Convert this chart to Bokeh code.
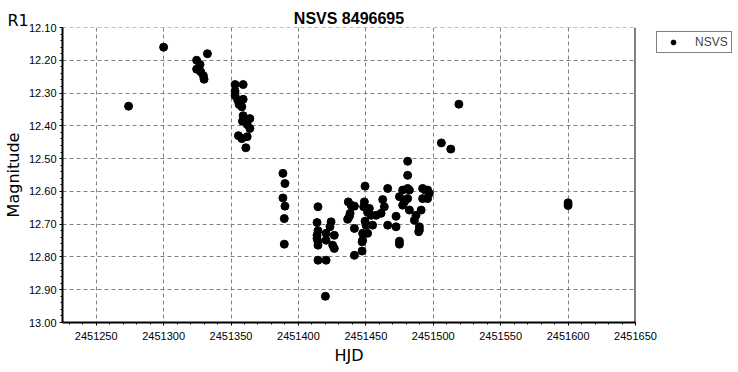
from bokeh.plotting import figure
from bokeh.models import (Range1d, SingleIntervalTicker, NumeralTickFormatter, Legend,
                          LegendItem, Span, Label, ColumnDataSource)
from bokeh.embed import file_html
from bokeh.resources import INLINE

title_text = "NSVS 8496695"
x_label = "HJD"
y_label = "Magnitude"
band_label = "R1"
series_name = "NSVS"

hjd = [
    2451274, 2451300, 2451332.5,
    2451324.5, 2451327, 2451324.5, 2451327.5, 2451329.5, 2451330,
    2451353, 2451359, 2451353, 2451353, 2451355, 2451359, 2451356, 2451358,
    2451359, 2451364, 2451358.5, 2451362, 2451364, 2451355.5, 2451358, 2451362, 2451361,
    2451388.5, 2451390, 2451388.5, 2451390, 2451389.5, 2451389.5,
    2451414.5, 2451413.8, 2451414.5, 2451413.8, 2451413.8, 2451414.5, 2451414.5,
    2451420.5, 2451424.2, 2451423.4, 2451420.5, 2451426.6, 2451425.4, 2451426.6,
    2451414.5, 2451420.5, 2451420,
    2451449.4, 2451437, 2451439, 2451441.5, 2451438.3, 2451436.5, 2451441.5,
    2451448.4, 2451451.3, 2451453.9, 2451457.6, 2451449.4, 2451450.1, 2451447.6,
    2451451.3, 2451447.2, 2451447.2, 2451441.5, 2451448.9, 2451452.6, 2451455,
    2451437.8, 2451447.6,
    2451466.2, 2451462.5, 2451474.9, 2451478.6, 2451463.7, 2451461.3, 2451472.4,
    2451466.2, 2451472.4, 2451474.9, 2451474.9, 2451481, 2451481, 2451481,
    2451477.3, 2451482.3, 2451477.3, 2451482.3, 2451478.6, 2451481,
    2451492.1, 2451495.8, 2451492.1, 2451495.8, 2451497.1, 2451491, 2451487.2,
    2451486, 2451489.7, 2451489.2, 2451494.1, 2451489.7,
    2451506, 2451513, 2451519, 2451600, 2451600,
]
mag = [
    12.34, 12.16, 12.18,
    12.200, 12.213, 12.227, 12.235, 12.247, 12.258,
    12.274, 12.274, 12.294, 12.308, 12.322, 12.319, 12.335, 12.342,
    12.369, 12.378, 12.386, 12.396, 12.408, 12.430, 12.439, 12.433, 12.467,
    12.545, 12.576, 12.620, 12.645, 12.683, 12.761,
    12.647, 12.695, 12.720, 12.734, 12.744, 12.754, 12.764,
    12.728, 12.693, 12.708, 12.749, 12.734, 12.764, 12.774,
    12.810, 12.810, 12.920,
    12.584, 12.632, 12.642, 12.645, 12.667, 12.685, 12.713,
    12.647, 12.664, 12.673, 12.673, 12.691, 12.703, 12.728,
    12.728, 12.754, 12.782, 12.795, 12.632, 12.652, 12.703,
    12.676, 12.749,
    12.591, 12.625, 12.616, 12.627, 12.647, 12.667, 12.676,
    12.703, 12.708, 12.761, 12.752, 12.508, 12.551, 12.591,
    12.596, 12.596, 12.642, 12.657, 12.632, 12.622,
    12.591, 12.596, 12.622, 12.622, 12.606, 12.657, 12.673,
    12.688, 12.708, 12.723, 12.596, 12.718,
    12.452, 12.471, 12.334, 12.635, 12.643,
]

x_start, x_end = 2451225, 2451650
y_top, y_bottom = 12.10, 13.00

p = figure(output_backend="svg", toolbar_location=None,
           frame_width=573, frame_height=295,
           min_border_left=55, min_border_right=90, min_border_top=27, min_border_bottom=40,
           x_range=Range1d(x_start, x_end), y_range=Range1d(y_bottom, y_top),
           background_fill_color="white", border_fill_color="white")
p.outline_line_color = None

p.title.text = title_text
p.title.align = "center"
p.title.text_font = "Liberation Sans"
p.title.text_font_size = "16px"
p.title.text_font_style = "bold"
p.title.text_color = "black"
p.title.standoff = 2

p.xaxis.ticker = SingleIntervalTicker(interval=50, num_minor_ticks=5)
p.yaxis.ticker = SingleIntervalTicker(interval=0.1, num_minor_ticks=5)
p.xaxis.formatter = NumeralTickFormatter(format="0")
p.yaxis.formatter = NumeralTickFormatter(format="0.00")

for ax in (p.xaxis, p.yaxis):
    ax.axis_line_color = "black"
    ax.axis_line_width = 2
    ax.major_tick_line_color = "black"
    ax.minor_tick_line_color = "black"
    ax.major_tick_out = 3
    ax.major_tick_in = 0
    ax.minor_tick_out = 2
    ax.minor_tick_in = 0
    ax.major_label_text_font = "Liberation Sans"
    ax.major_label_text_font_size = "11px"
    ax.major_label_text_color = "black"
    ax.major_label_standoff = 3
    ax.axis_label_text_font = "DejaVu Sans"
    ax.axis_label_text_font_size = "16px"
    ax.axis_label_text_font_style = "normal"
    ax.axis_label_text_color = "black"
    ax.axis_label_standoff = 3

p.xaxis.major_label_standoff = 6
p.xaxis.axis_label = x_label
p.yaxis.axis_label = y_label

for g in (p.xgrid, p.ygrid):
    g.grid_line_color = "#808080"
    g.grid_line_dash = "4 3"
    g.grid_line_width = 1

p.add_layout(Span(location=x_end, dimension="height", line_color="black", line_width=2))

src = ColumnDataSource(dict(x=hjd, y=mag))
r = p.scatter("x", "y", source=src, marker="circle", size=8,
              fill_color="black", line_color="black")

legend = Legend(items=[LegendItem(label=series_name, renderers=[r])],
                location=(21, 269), margin=0, padding=3, spacing=0,
                glyph_width=26, glyph_height=12, label_height=12, label_standoff=9,
                label_text_font="Liberation Sans", label_text_font_size="12px",
                border_line_color="black", border_line_width=1,
                background_fill_color="white", background_fill_alpha=1.0)
p.add_layout(legend, "right")

# "R1" band label: lives in the right side panel after the legend, drawn at top-left
p.add_layout(Label(x=-1178, y=302, x_units="screen", y_units="screen", text=band_label,
                   text_font="DejaVu Sans", text_font_size="16px", text_color="black",
                   text_baseline="alphabetic"), "right")

open("out.html", "w").write(file_html(p, INLINE))
